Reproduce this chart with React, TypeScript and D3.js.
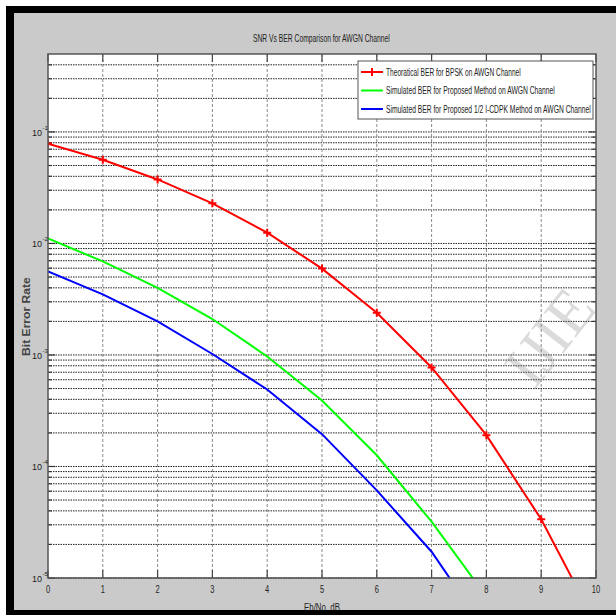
import React, { useLayoutEffect, useRef } from "react";
import * as d3 from "d3";

// Eb/No in dB
const ebno = [0, 1, 2, 3, 4, 5, 6, 7, 8, 9, 10];
// (log axis)
const berTheory = [0.0786, 0.0563, 0.0375, 0.0229, 0.0125, 0.00595, 0.00239, 0.000773, 0.000191, 3.36e-5, 3.87e-6];
const berProposed = [0.0111, 0.0069, 0.004, 0.0021, 0.00097, 0.00039, 0.000126, 3.2e-5, 6.8e-6];
const berCdpk = [0.0056, 0.0035, 0.002, 0.00102, 0.00049, 0.000195, 6.1e-5, 1.72e-5, 3.3e-6];

const xTicks = [0, 1, 2, 3, 4, 5, 6, 7, 8, 9, 10];
const yDecades = [-5, -4, -3, -2, -1];

const seriesNames = [
  "Theoratical BER for BPSK on AWGN Channel",
  "Simulated BER for Proposed Method on AWGN Channel",
  "Simulated BER for Proposed 1/2 I-CDPK Method on AWGN Channel",
];
const seriesColors = ["#ff0000", "#00ff00", "#0000ff"];
const seriesData = [berTheory, berProposed, berCdpk];

const W = 616;
const H = 615;
const plot = { left: 48, right: 596, top: 54, bottom: 578 };
const legendTextWidths = [135, 169, 205];
const FONT = "'Liberation Sans', Arial, sans-serif";

export default function App() {
  const svgRef = useRef<SVGSVGElement>(null);

  const x = d3.scaleLinear().domain([0, 10]).range([plot.left, plot.right]);
  const y = d3.scaleLog().domain([1e-5, 0.5]).range([plot.bottom, plot.top]);

  // squeeze texts horizontally to the narrow look of the original
  useLayoutEffect(() => {
    const svg = d3.select(svgRef.current);
    svg.selectAll<SVGTextElement, unknown>("text[data-fit]").each(function () {
      const el = this;
      const target = +(el.getAttribute("data-fit") || 0);
      const ax = +(el.getAttribute("data-ax") || 0);
      const ay = +(el.getAttribute("data-ay") || 0);
      const rot = el.getAttribute("data-rot");
      const len = el.getComputedTextLength();
      const k = target / len;
      el.setAttribute(
        "transform",
        `translate(${ax},${ay})${rot ? ` rotate(${rot})` : ""} scale(${k},1)`
      );
    });
  }, []);

  const gridVals: number[] = [];
  yDecades.forEach((e) => {
    for (let m = 1; m <= 9; m++) {
      const v = m * Math.pow(10, e);
      if (v < 0.5) gridVals.push(v);
    }
  });

  const line = (vals: number[]) =>
    d3
      .line<number>()
      .x((_, i) => x(ebno[i]))
      .y((d) => y(d))(vals) || "";

  const plus = (cx: number, cy: number, r: number) =>
    `M${cx - r},${cy}H${cx + r}M${cx},${cy - r}V${cy + r}`;

  return (
    <svg
      ref={svgRef}
      width={W}
      height={H}
      style={{ position: "absolute", left: 0, top: 0 }}
      fontFamily={FONT}
    >
      <rect x={0} y={0} width={W} height={H} fill="#fff" />
      <rect x={6} y={6} width={W - 6} height={H - 6} fill="#000" />
      <rect x={14} y={13} width={W - 14} height={597} fill="#cacaca" />

      <defs>
        <clipPath id="plotClip">
          <rect x={plot.left} y={plot.top} width={plot.right - plot.left} height={plot.bottom - plot.top} />
        </clipPath>
      </defs>

      <rect
        x={plot.left}
        y={plot.top}
        width={plot.right - plot.left}
        height={plot.bottom - plot.top}
        fill="#fff"
      />

      {/* title */}
      <text data-fit={137} data-ax={253} data-ay={42} fontSize={10.5} fill="#222">
        SNR Vs BER Comparison for AWGN Channel
      </text>

      {/* horizontal grid */}
      {gridVals.map((v, i) => (
        <line
          key={"h" + i}
          x1={plot.left}
          x2={plot.right}
          y1={y(v)}
          y2={y(v)}
          stroke="#222"
          strokeWidth={1}
          strokeDasharray="1.5,1"
        />
      ))}
      {/* vertical grid */}
      {xTicks.slice(1, -1).map((t) => (
        <line
          key={"v" + t}
          x1={x(t)}
          x2={x(t)}
          y1={plot.top}
          y2={plot.bottom}
          stroke="#8a8a8a"
          strokeWidth={1}
          strokeDasharray="3,2"
        />
      ))}

      {/* y ticks */}
      {gridVals.map((v, i) => {
        const major = Math.abs(Math.log10(v) - Math.round(Math.log10(v))) < 1e-6;
        const len = major ? 7 : 4;
        return (
          <g key={"yt" + i} stroke="#333" strokeWidth={1.2}>
            <line x1={plot.left} x2={plot.left + len} y1={y(v)} y2={y(v)} />
            <line x1={plot.right} x2={plot.right - len} y1={y(v)} y2={y(v)} />
          </g>
        );
      })}
      {/* x ticks */}
      {xTicks.map((t) => (
        <g key={"xt" + t} stroke="#444" strokeWidth={1.2}>
          <line x1={x(t)} x2={x(t)} y1={plot.bottom} y2={plot.bottom - 8} />
          <line x1={x(t)} x2={x(t)} y1={plot.top} y2={plot.top + 8} />
        </g>
      ))}

      {/* watermark */}
      <text
        x={0}
        y={0}
        transform="translate(566,350) rotate(-52)"
        fontSize={62}
        fontFamily="'Liberation Serif', serif"
        textAnchor="middle"
        fill="#808080"
        opacity={0.28}
      >
        IJIE
      </text>

      {/* series */}
      <g clipPath="url(#plotClip)">
        {seriesData.map((vals, k) => (
          <path key={"s" + k} d={line(vals)} fill="none" stroke={seriesColors[k]} strokeWidth={2} />
        ))}
        {berTheory.map((v, i) => (
          <path key={"m" + i} d={plus(x(ebno[i]), y(v), 4)} stroke="#ff0000" strokeWidth={2} fill="none" />
        ))}
      </g>

      {/* axes box */}
      <rect
        x={plot.left}
        y={plot.top}
        width={plot.right - plot.left}
        height={plot.bottom - plot.top}
        fill="none"
        stroke="#555"
        strokeWidth={1.5}
      />

      {/* y tick labels */}
      {yDecades.map((e) => (
        <g key={"yl" + e} fill="#222">
          <text x={42} y={y(Math.pow(10, e)) + 4} fontSize={9} textAnchor="end">
            10
          </text>
          <text x={42.5} y={y(Math.pow(10, e)) - 2} fontSize={6}>
            {e}
          </text>
        </g>
      ))}
      {/* x tick labels */}
      {xTicks.map((t) => (
        <text
          key={"xl" + t}
          x={0}
          y={0}
          fontSize={10}
          fill="#222"
          textAnchor="middle"
          transform={`translate(${x(t)},593) scale(0.75,1)`}
        >
          {t}
        </text>
      ))}

      {/* axis labels */}
      <text
        data-fit={79}
        data-ax={30}
        data-ay={356}
        data-rot={-90}
        fontSize={10}
        fontWeight="bold"
        fill="#444"
      >
        Bit Error Rate
      </text>
      <text data-fit={36} data-ax={304} data-ay={611} fontSize={10} fill="#222">
        Eb/No, dB
      </text>
      <rect x={6} y={610} width={W - 6} height={5} fill="#000" />

      {/* legend */}
      <g>
        <rect x={358} y={61} width={235} height={58} fill="#fff" stroke="#555" strokeWidth={1} />
        {seriesNames.map((name, k) => {
          const ly = 72 + k * 18.5;
          return (
            <g key={"lg" + k}>
              <line x1={361} x2={383} y1={ly} y2={ly} stroke={seriesColors[k]} strokeWidth={2} />
              {k === 0 && <path d={plus(372, ly, 4)} stroke="#ff0000" strokeWidth={2} />}
              <text
                data-fit={legendTextWidths[k]}
                data-ax={386}
                data-ay={ly + 3.5}
                fontSize={10}
                fill="#222"
              >
                {name}
              </text>
            </g>
          );
        })}
      </g>
    </svg>
  );
}
